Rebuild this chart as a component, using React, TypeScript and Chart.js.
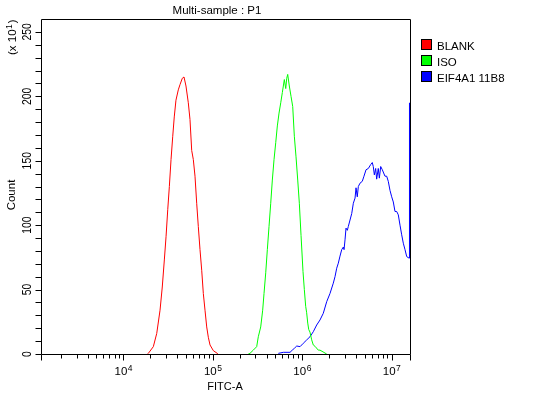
import React, { useEffect, useRef } from "react";
import { Chart, registerables } from "chart.js";

Chart.register(...registerables);

const CHART_TITLE = "Multi-sample : P1";
const X_TITLE = "FITC-A";
const Y_TITLE = "Count";
const Y_MULT_BASE = "(x 10";
const Y_MULT_EXP = "1";
const Y_MULT_END = ")";

const seriesNames = ["BLANK", "ISO", "EIF4A1 11B8"];
const seriesColors = ["#ff0000", "#00ff00", "#0000ff"];

const xDecadeExponents = [4, 5, 6, 7];
const yTickValues = [0, 50, 100, 150, 200, 250];
const X_MIN = 1232;
const X_MAX = 16100000;
const Y_MAX = 260;

// log10(FITC-A) positions and counts (x10)
const blankLog = [4.27, 4.28, 4.336, 4.374, 4.411, 4.436, 4.459, 4.478, 4.497, 4.515, 4.534, 4.553, 4.57, 4.589, 4.615, 4.634, 4.66, 4.679, 4.701, 4.727, 4.746, 4.765, 4.783, 4.802, 4.821, 4.839, 4.858, 4.877, 4.895, 4.914, 4.933, 4.951, 4.97, 5.007, 5.051, 5.06];
const blankCount = [0, 0.5, 5.7, 16, 34, 52, 73, 91, 112, 130, 151, 169, 184, 197, 205, 209, 214, 215, 208, 195, 182, 158, 151, 138, 117, 99, 81, 65, 47, 34, 21, 13, 7, 2.6, 0.5, 0];

const isoLog = [5.398, 5.417, 5.454, 5.492, 5.51, 5.537, 5.559, 5.574, 5.593, 5.611, 5.63, 5.649, 5.667, 5.686, 5.705, 5.723, 5.742, 5.761, 5.779, 5.801, 5.817, 5.828, 5.839, 5.857, 5.876, 5.895, 5.913, 5.932, 5.951, 5.969, 5.988, 6.01, 6.025, 6.04, 6.051, 6.063, 6.074, 6.088, 6.107, 6.125, 6.144, 6.181, 6.2, 6.275];
const isoCount = [0, 0.5, 3, 5.7, 13.4, 21, 34, 47, 63, 81, 99, 117, 135, 151, 164, 177, 187, 195, 203, 213, 206, 214, 217, 208, 200, 192, 169, 153, 135, 117, 92, 64, 50, 37, 32, 24, 19, 17, 11, 7, 6, 3, 3, 0];

const eifLog = [5.734, 5.79, 5.865, 5.89, 5.913, 5.94, 5.977, 6.013, 6.051, 6.088, 6.125, 6.163, 6.2, 6.237, 6.275, 6.312, 6.349, 6.368, 6.387, 6.405, 6.424, 6.443, 6.461, 6.469, 6.48, 6.491, 6.506, 6.517, 6.536, 6.555, 6.573, 6.592, 6.603, 6.617, 6.629, 6.648, 6.673, 6.692, 6.715, 6.741, 6.767, 6.785, 6.796, 6.808, 6.823, 6.834, 6.852, 6.864, 6.879, 6.897, 6.927, 6.946, 6.964, 6.983, 7.002, 7.02, 7.039, 7.058, 7.076, 7.095, 7.114, 7.132, 7.151, 7.17, 7.196, 7.201];
const eifCount = [0.5, 1.3, 1.3, 3, 4.4, 6.2, 5.7, 8.3, 10.9, 13.4, 17.3, 22.5, 26.4, 31.6, 40.6, 47, 55, 60, 66.6, 70.5, 76, 81, 83, 81, 88.6, 97.7, 96, 99, 104, 109, 117, 121, 129, 122, 130, 132.6, 134, 138, 143, 144, 147, 148.6, 145.5, 139, 144, 135.7, 144, 136.5, 145.5, 143, 138, 138, 134, 127, 122, 118, 110.6, 110.6, 108, 100, 92.5, 86, 81, 75.6, 74.4, 195];

const FONT = "'Liberation Sans', Arial, sans-serif";

const toPoints = (logs: number[], counts: number[]) =>
  logs.map((lx, i) => ({ x: Math.pow(10, lx), y: counts[i] }));

const overlayPlugin = {
  id: "overlay",
  afterDraw(chart: any) {
    const { ctx, chartArea: ca, scales } = chart;
    const xs = scales.x;
    const ys = scales.y;
    const L = ca.left - 0.5;
    const R = ca.right + 0.5;
    const T = ca.top + 0.5;
    const B = ca.bottom + 0.5;
    ctx.save();
    ctx.strokeStyle = "#000";
    ctx.fillStyle = "#000";
    ctx.lineWidth = 1;

    // frame
    ctx.beginPath();
    ctx.moveTo(L, T);
    ctx.lineTo(R, T);
    ctx.lineTo(R, B);
    ctx.lineTo(L, B);
    ctx.closePath();
    ctx.stroke();

    // y ticks
    ctx.beginPath();
    for (let v = 0; v <= 250; v += 10) {
      const y = Math.round(ys.getPixelForValue(v)) + 0.5;
      ctx.moveTo(L - 6, y);
      ctx.lineTo(L, y);
    }
    ctx.stroke();

    // y labels (rotated, slightly condensed)
    ctx.font = `13px ${FONT}`;
    ctx.textAlign = "center";
    ctx.textBaseline = "alphabetic";
    yTickValues.forEach((v) => {
      const y = ys.getPixelForValue(v);
      ctx.save();
      ctx.translate(31, y);
      ctx.rotate(-Math.PI / 2);
      ctx.scale(0.8, 1);
      ctx.fillText(String(v), 0, 0);
      ctx.restore();
    });

    // x ticks
    ctx.beginPath();
    for (let e = 3; e <= 7; e++) {
      for (let k = 1; k <= 9; k++) {
        const v = k * Math.pow(10, e);
        if (v < X_MIN || v > X_MAX) continue;
        const x = Math.round(xs.getPixelForValue(v)) + 0.5;
        const len = k === 1 ? 6 : 4;
        ctx.moveTo(x, B);
        ctx.lineTo(x, B + len);
      }
    }
    ctx.moveTo(L, B);
    ctx.lineTo(L, B + 6);
    ctx.moveTo(R, B);
    ctx.lineTo(R, B + 6);
    ctx.stroke();

    // x labels 10^n
    xDecadeExponents.forEach((e) => {
      const x = xs.getPixelForValue(Math.pow(10, e));
      ctx.font = `11.5px ${FONT}`;
      const wBase = ctx.measureText("10").width;
      ctx.font = `8.5px ${FONT}`;
      const wExp = ctx.measureText(String(e)).width;
      const start = x - (wBase + wExp) / 2;
      ctx.textAlign = "left";
      ctx.font = `11.5px ${FONT}`;
      ctx.fillText("10", start, 375);
      ctx.font = `8.5px ${FONT}`;
      ctx.fillText(String(e), start + wBase + 0.5, 370.5);
    });

    // x title
    ctx.font = `11px ${FONT}`;
    ctx.textAlign = "center";
    ctx.fillText(X_TITLE, 225, 389.5);

    // chart title
    ctx.font = `11.5px ${FONT}`;
    ctx.fillText(CHART_TITLE, 217, 13.5);

    // y title
    ctx.save();
    ctx.font = `11.5px ${FONT}`;
    ctx.translate(15, 195);
    ctx.rotate(-Math.PI / 2);
    ctx.textAlign = "center";
    ctx.fillText(Y_TITLE, 0, 0);
    ctx.restore();

    // y multiplier (x 10^1)
    ctx.save();
    ctx.translate(16, 55);
    ctx.rotate(-Math.PI / 2);
    ctx.textAlign = "left";
    ctx.font = `11.5px ${FONT}`;
    ctx.fillText(Y_MULT_BASE, 0, 0);
    let w = ctx.measureText(Y_MULT_BASE).width;
    ctx.font = `8.5px ${FONT}`;
    ctx.fillText(Y_MULT_EXP, w + 0.5, -4.5);
    w += ctx.measureText(Y_MULT_EXP).width + 1.5;
    ctx.font = `11.5px ${FONT}`;
    ctx.fillText(Y_MULT_END, w, 0);
    ctx.restore();

    // legend
    ctx.font = `11.5px ${FONT}`;
    ctx.textAlign = "left";
    seriesNames.forEach((name, i) => {
      const top = 39 + i * 16;
      ctx.fillStyle = seriesColors[i];
      ctx.fillRect(421, top, 11, 11);
      ctx.strokeStyle = "#000";
      ctx.strokeRect(421.5, top + 0.5, 10, 10);
      ctx.fillStyle = "#000";
      ctx.fillText(name, 437, top + 10.5);
    });

    ctx.restore();
  },
};

export default function App() {
  const canvasRef = useRef<HTMLCanvasElement | null>(null);

  useEffect(() => {
    const canvas = canvasRef.current;
    if (!canvas) return;
    const chart = new Chart(canvas, {
      type: "line",
      data: {
        datasets: [
          { label: seriesNames[0], data: toPoints(blankLog, blankCount), borderColor: seriesColors[0] },
          { label: seriesNames[1], data: toPoints(isoLog, isoCount), borderColor: seriesColors[1] },
          { label: seriesNames[2], data: toPoints(eifLog, eifCount), borderColor: seriesColors[2] },
        ].map((d) => ({
          ...d,
          borderWidth: 1,
          pointRadius: 0,
          tension: 0,
          fill: false,
          backgroundColor: d.borderColor,
        })),
      },
      options: {
        animation: false,
        responsive: false,
        devicePixelRatio: 1,
        layout: { padding: { left: 42, right: 137, top: 19, bottom: 39 } },
        plugins: {
          legend: { display: false },
          title: { display: false },
          tooltip: { enabled: false },
        },
        events: [],
        scales: {
          x: { type: "logarithmic", display: false, min: X_MIN, max: X_MAX },
          y: { type: "linear", display: false, min: 0, max: Y_MAX },
        },
      },
      plugins: [overlayPlugin],
    });
    return () => chart.destroy();
  }, []);

  return (
    <div style={{ position: "fixed", left: 0, top: 0, width: 547, height: 393, background: "#fff" }}>
      <canvas ref={canvasRef} width={547} height={393} style={{ display: "block", width: 547, height: 393 }} />
    </div>
  );
}
